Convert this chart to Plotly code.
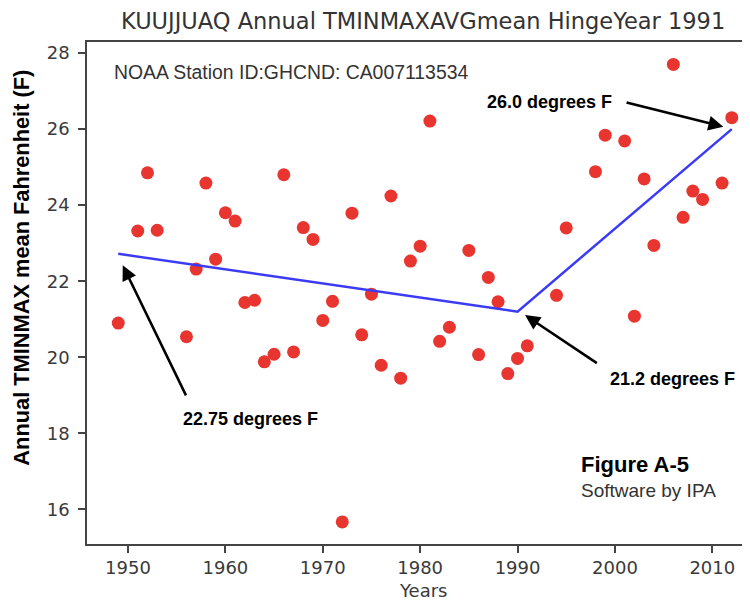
import plotly.graph_objects as go

# ---- data ----
years = [1949, 1951, 1952, 1953, 1956, 1957, 1958, 1959, 1960, 1961, 1962, 1963, 1964,
         1965, 1966, 1967, 1968, 1969, 1970, 1971, 1972, 1973, 1974, 1975, 1976, 1977,
         1978, 1979, 1980, 1981, 1982, 1983, 1985, 1986, 1987, 1988, 1989, 1990, 1991,
         1994, 1995, 1998, 1999, 2001, 2002, 2003, 2004, 2006, 2007, 2008, 2009, 2011, 2012]
values = [20.90, 23.32, 24.85, 23.34, 20.54, 22.32, 24.58, 22.58, 23.80, 23.58, 21.44, 21.50, 19.88,
          20.08, 24.80, 20.14, 23.41, 23.10, 20.97, 21.47, 15.67, 23.79, 20.59, 21.66, 19.79, 24.24,
          19.45, 22.53, 22.92, 26.21, 20.42, 20.79, 22.81, 20.07, 22.10, 21.46, 19.57, 19.97, 20.30,
          21.63, 23.40, 24.88, 25.84, 25.69, 21.08, 24.69, 22.94, 27.70, 23.68, 24.37, 24.15, 24.58, 26.30]

fit_years = [1949, 1990, 2012]
fit_values = [22.72, 21.2, 26.0]

x_ticks = [1950, 1960, 1970, 1980, 1990, 2000, 2010]
y_ticks = [16, 18, 20, 22, 24, 26, 28]

title_text = "KUUJJUAQ Annual TMINMAXAVGmean HingeYear 1991"
station_text = "NOAA Station ID:GHCND: CA007113534"

# arrow annotations: (label, tail_x, tail_y, head_x, head_y, text_x, text_y)
callouts = [
    ("22.75 degrees F", 1956.03, 18.96, 1949.46, 22.42, 1962.58, 18.37),
    ("21.2 degrees F", 1998.3, 19.82, 1990.77, 21.11, 2005.92, 19.42),
    ("26.0 degrees F", 2001.04, 26.71, 2011.13, 26.06, 1993.23, 26.71),
]

fig = go.Figure()
fig.add_trace(go.Scatter(
    x=years, y=values, mode="markers",
    marker=dict(size=13, color="#e8352f", line=dict(width=0)),
    showlegend=False, hoverinfo="skip"))
fig.add_trace(go.Scatter(
    x=fit_years, y=fit_values, mode="lines",
    line=dict(color="#3b3bf6", width=2.5),
    showlegend=False, hoverinfo="skip"))

annotations = []
for label, tx, ty, hx, hy, lx, ly in callouts:
    annotations.append(dict(
        x=hx, y=hy, ax=tx, ay=ty, xref="x", yref="y", axref="x", ayref="y",
        text="", showarrow=True, arrowhead=2, arrowsize=1.15, arrowwidth=2.6,
        arrowcolor="black", standoff=0, startstandoff=0))
    annotations.append(dict(
        x=lx, y=ly, xref="x", yref="y", text="<b>%s</b>" % label, showarrow=False,
        font=dict(family="Liberation Sans, Arial", size=18, color="black"),
        xanchor="center", yanchor="middle"))

annotations += [
    dict(x=0.5075, y=(544 - 21) / 502.3, xref="paper", yref="paper", text=title_text,
         showarrow=False, xanchor="center", yanchor="middle",
         font=dict(family="DejaVu Sans", size=22.5, color="#333333")),
    dict(x=0.5075, y=(544 - 591) / 502.3, xref="paper", yref="paper", text="Years",
         showarrow=False, xanchor="center", yanchor="middle",
         font=dict(family="DejaVu Sans", size=18, color="#3a3a3a")),
    dict(x=0.0373, y=0.940, xref="paper", yref="paper", text=station_text, showarrow=False,
         xanchor="left", yanchor="middle",
         font=dict(family="Liberation Sans, Arial", size=19.4, color="#333333")),
    dict(x=0.7425, y=0.1587, xref="paper", yref="paper", text="<b>Figure A-5</b>", showarrow=False,
         xanchor="left", yanchor="middle",
         font=dict(family="Liberation Sans, Arial", size=22, color="black")),
    dict(x=0.7425, y=0.1075, xref="paper", yref="paper", text="Software by IPA", showarrow=False,
         xanchor="left", yanchor="middle",
         font=dict(family="Liberation Sans, Arial", size=19, color="#333333")),
    dict(x=-0.098, y=0.5505, xref="paper", yref="paper",
         text="<b>Annual TMINMAX mean Fahrenheit (F)</b>", showarrow=False, textangle=-90,
         xanchor="center", yanchor="middle",
         font=dict(family="Liberation Sans, Arial", size=21.8, color="black")),
]

# the page body adds an 8px offset; the figure is sized so the plot lands where the reference has it
fig.update_layout(
    width=742, height=593,
    margin=dict(l=79, r=0, t=34, b=57, autoexpand=False),
    paper_bgcolor="white", plot_bgcolor="white",
    xaxis=dict(range=[1945.79, 2013.87], tickvals=x_ticks, ticks="outside", ticklen=7,
               tickwidth=1.5, tickcolor="#444444", showline=True, linecolor="#444444",
               linewidth=1.5, mirror=True, showgrid=False, zeroline=False, automargin=False,
               tickfont=dict(family="DejaVu Sans", size=18, color="#3a3a3a")),
    yaxis=dict(range=[15.09, 28.29], tickvals=y_ticks, ticks="outside", ticklen=7,
               tickwidth=1.5, tickcolor="#444444", showline=True, linecolor="#444444",
               linewidth=1.5, mirror=False, showgrid=False, zeroline=False, automargin=False,
               ticklabelstandoff=5,
               tickfont=dict(family="DejaVu Sans", size=18, color="#3a3a3a")),
    annotations=annotations,
)

fig.write_html("out.html")
